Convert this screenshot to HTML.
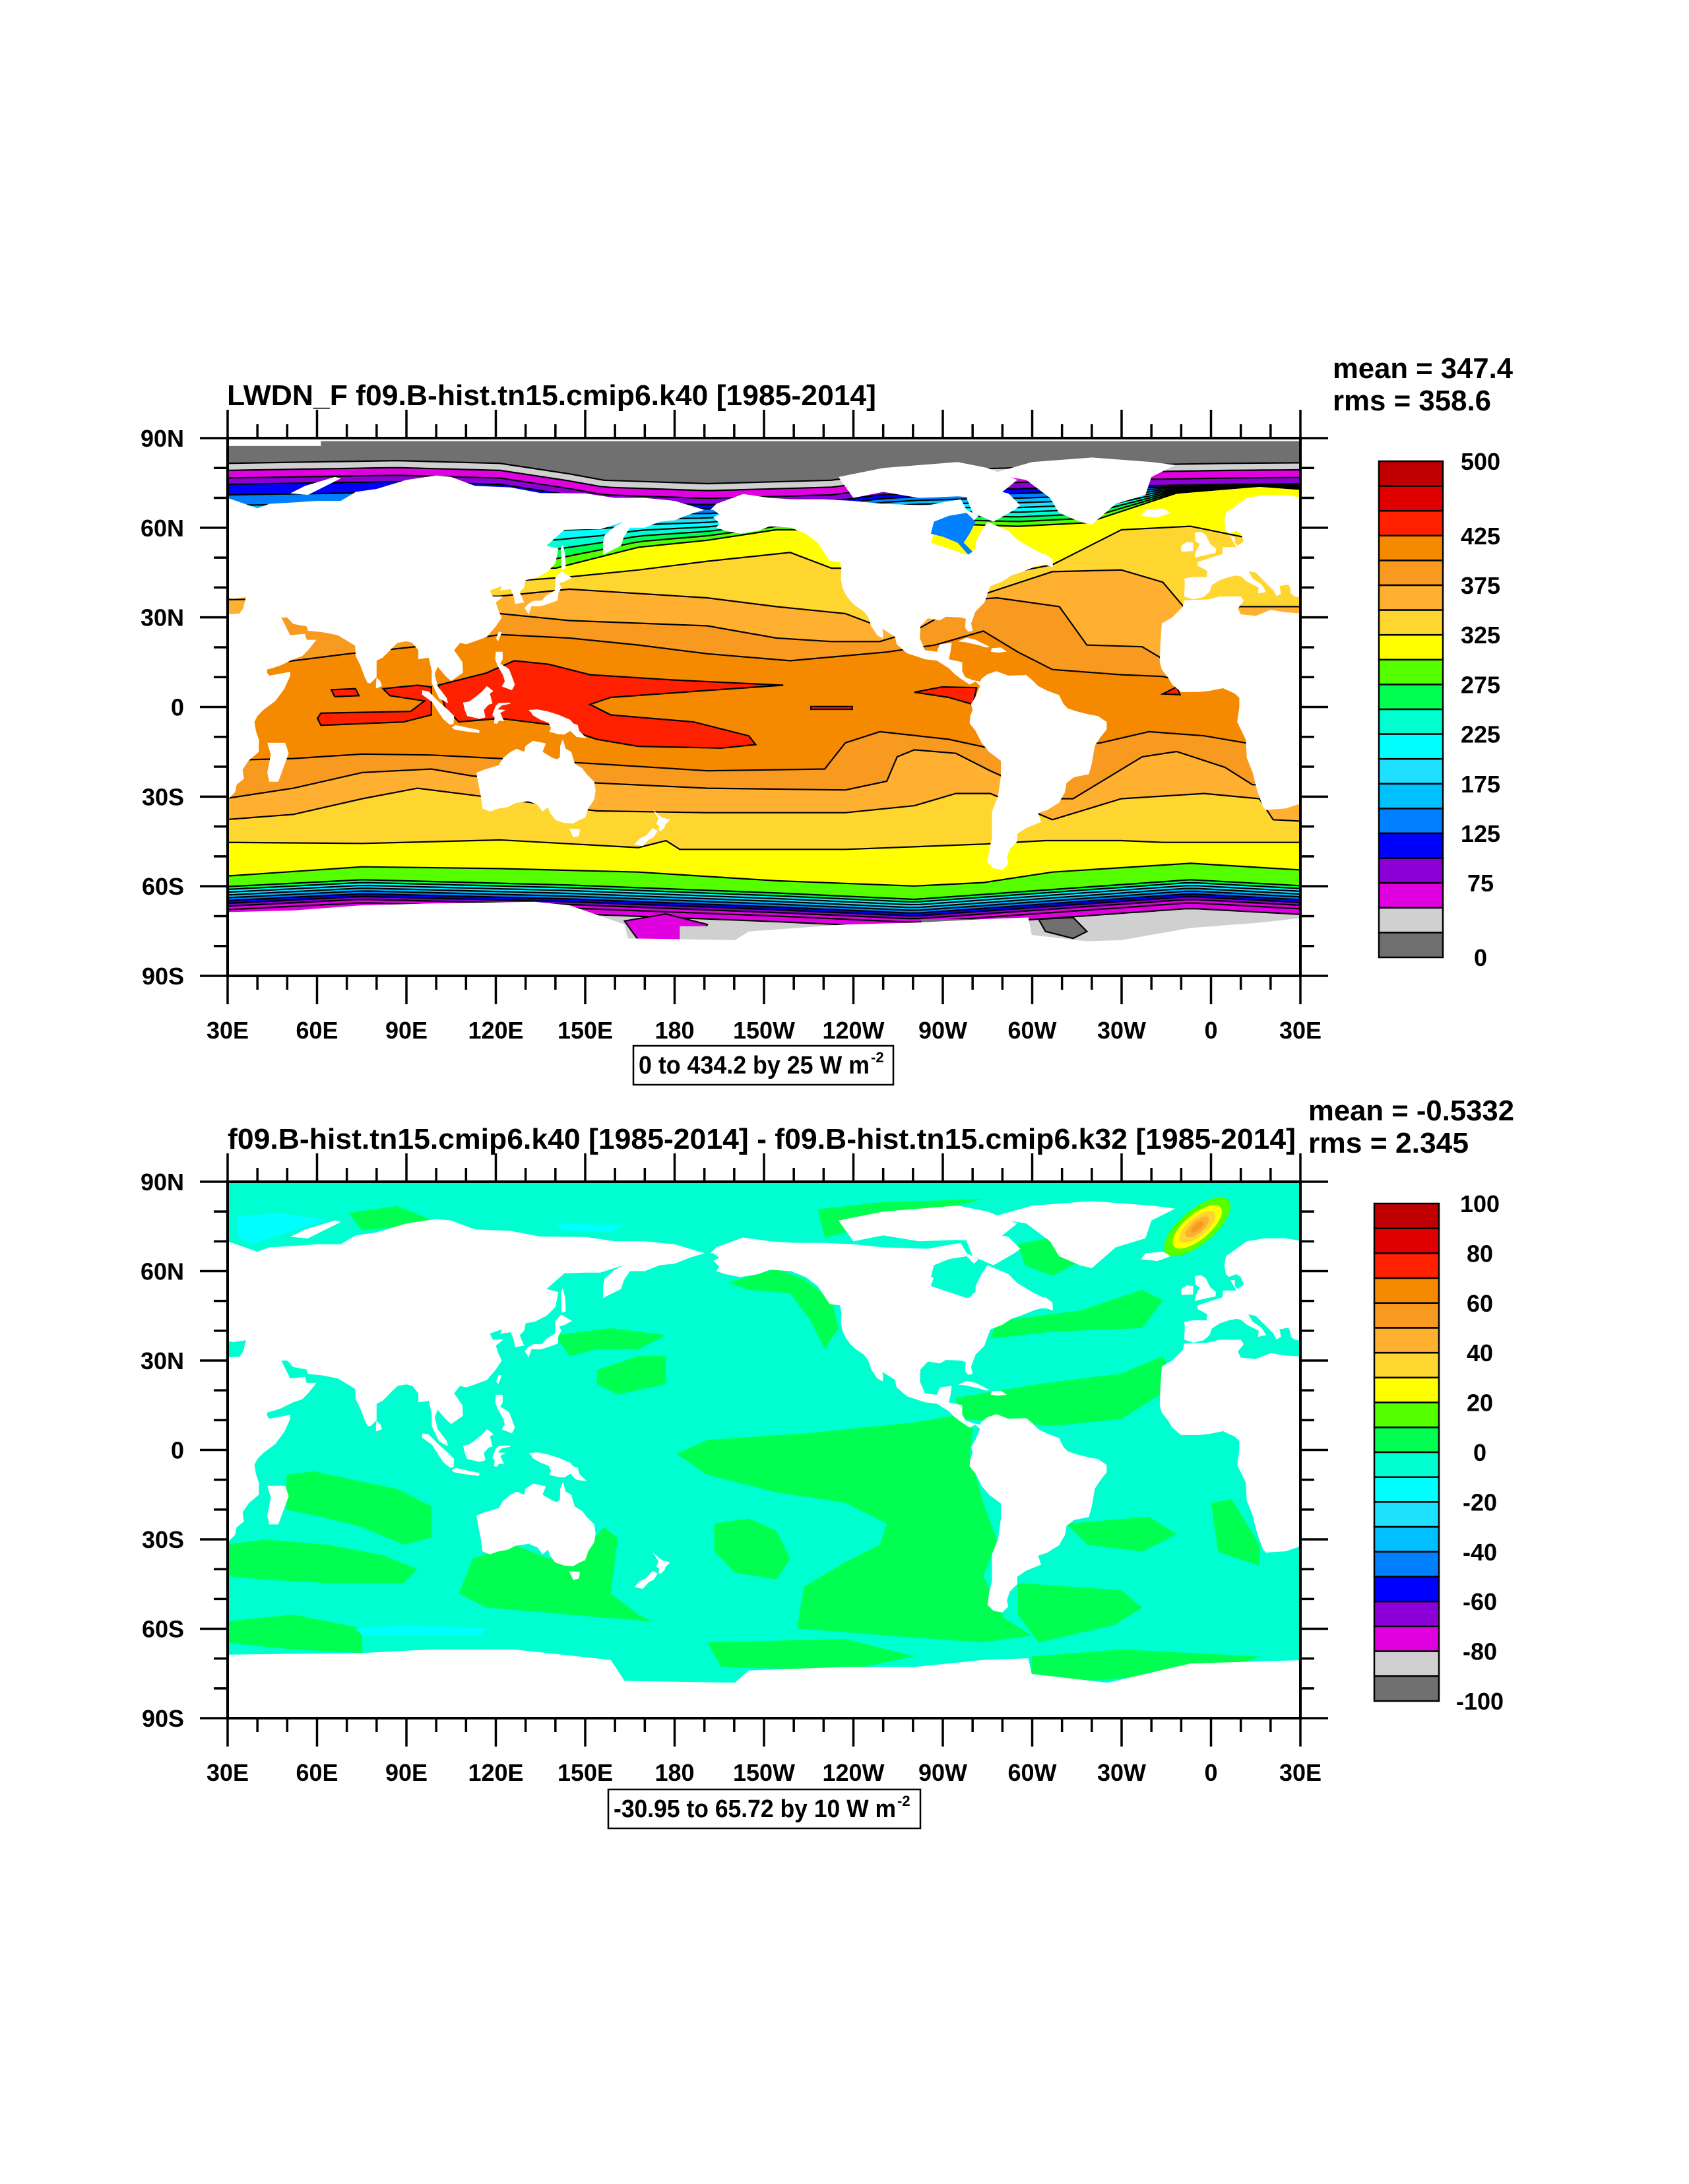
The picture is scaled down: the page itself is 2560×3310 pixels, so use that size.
<!DOCTYPE html>
<html><head><meta charset="utf-8"><style>
html,body{margin:0;padding:0;background:#fff;}
svg{display:block;font-family:"Liberation Sans",Arial,sans-serif;font-weight:bold;}
</style></head><body>
<svg id="chart" width="2560" height="3310" viewBox="0 0 2560 3310" xmlns="http://www.w3.org/2000/svg">
<rect width="2560" height="3310" fill="#fff"/>
<defs>
<clipPath id="clipU"><rect x="345" y="664" width="1626" height="815"/></clipPath>
<clipPath id="clipL"><rect x="345" y="1791" width="1626" height="813"/></clipPath>
</defs>
<g id="mapU" clip-path="url(#clipU)"></g>
<g id="mapL" clip-path="url(#clipL)"></g>
<g id="axes"></g>
<text x="344" y="614" font-size="44" textLength="984" lengthAdjust="spacingAndGlyphs">LWDN_F f09.B-hist.tn15.cmip6.k40 [1985-2014]</text>
<text x="2020" y="573" font-size="44" textLength="273" lengthAdjust="spacingAndGlyphs">mean = 347.4</text>
<text x="2020" y="622" font-size="44" textLength="240" lengthAdjust="spacingAndGlyphs">rms = 358.6</text>
<text x="345" y="1741" font-size="44" textLength="1619" lengthAdjust="spacingAndGlyphs">f09.B-hist.tn15.cmip6.k40 [1985-2014] - f09.B-hist.tn15.cmip6.k32 [1985-2014]</text>
<text x="1983" y="1698" font-size="44" textLength="312" lengthAdjust="spacingAndGlyphs">mean = -0.5332</text>
<text x="1983" y="1747" font-size="44" textLength="243" lengthAdjust="spacingAndGlyphs">rms = 2.345</text>
<g>
<rect x="960" y="1585" width="394" height="59" fill="none" stroke="#000" stroke-width="2.5"/>
<text x="968" y="1627" font-size="38" textLength="350" lengthAdjust="spacingAndGlyphs">0 to 434.2 by 25  W m</text>
<text x="1320" y="1610" font-size="22">-2</text>
</g>
<g>
<rect x="922" y="2712" width="473" height="59" fill="none" stroke="#000" stroke-width="2.5"/>
<text x="930" y="2754" font-size="38" textLength="428" lengthAdjust="spacingAndGlyphs">-30.95 to 65.72 by 10  W m</text>
<text x="1360" y="2737" font-size="22">-2</text>
</g>
<g id="cbars"></g>
</svg>
<script>
// ---------- data arrays ----------
const PAL=['#707070','#d0d0d0','#e000e0','#8c00d8','#0000ff','#0080ff','#00c0ff','#20e0ff','#00ffff','#00ffd0','#00ff50','#55ff00','#ffff00','#ffd530','#ffb030','#f89a20','#f58a00','#ff2000','#e00000','#c00000'];
const upperLabelVals=[500,425,375,325,275,225,175,125,75,0];
const lowerLabelVals=[100,80,60,40,20,0,-20,-40,-60,-80,-100];
const lonLabels=['30E','60E','90E','120E','150E','180','150W','120W','90W','60W','30W','0','30E'];
const latLabels=['90N','60N','30N','0','30S','60S','90S'];
const c400N=[[0,640],[60,655],[180,625],[300,600],[400,570],[500,580],[600,600],[700,625],[820,645],[960,620],[1030,600],[1100,560],[1150,620],[1200,670],[1300,685],[1360,690],[1420,720],[1568,720]];
const c375N=[[0,520],[400,510],[500,530],[700,545],[800,580],[880,590],[950,590],[1000,560],[1080,470],[1120,465],[1210,490],[1250,600],[1330,605],[1360,640],[1568,640]];
const c350N=[[0,470],[400,460],[500,440],[700,465],[800,490],[900,510],[940,540],[1000,500],[1100,455],[1200,390],[1300,385],[1360,420],[1390,490],[1568,490]];
const c325N=[[0,420],[430,415],[500,405],[600,385],[700,360],[820,335],[880,380],[1000,380],[1120,400],[1200,370],[1300,270],[1400,260],[1500,300],[1568,300]];
const c300N=[[0,380],[480,380],[600,320],[700,300],[800,270],[900,270],[1000,250],[1150,260],[1250,250],[1380,165],[1500,145],[1568,155]];
const polarDG=[[0,80],[250,72],[400,80],[500,110],[550,128],[700,138],[880,128],[950,110],[1100,95],[1300,85],[1450,80],[1568,78]];
const c400S=[[0,930],[100,925],[200,912],[300,915],[400,925],[540,940],[700,960],[870,955],[900,880],[950,848],[1050,870],[1120,900],[1200,895],[1270,880],[1340,848],[1420,860],[1568,910]];
const c375S=[[0,1040],[100,1010],[200,965],[300,955],[360,975],[540,995],[700,1010],[900,1015],[960,990],[975,920],[1000,900],[1060,910],[1110,960],[1200,1040],[1230,1040],[1330,920],[1380,905],[1450,950],[1490,1000],[1568,1000]];
const c350S=[[0,1100],[100,1085],[200,1040],[280,1010],[360,1030],[540,1075],[700,1080],[900,1080],[1000,1060],[1060,1025],[1110,1025],[1200,1100],[1300,1040],[1420,1025],[1500,1040],[1520,1100],[1568,1105]];
const c325S=[[0,1165],[200,1168],[400,1158],[600,1180],[640,1160],[660,1185],[900,1185],[1100,1170],[1190,1160],[1300,1160],[1360,1165],[1568,1165]];
const c300S=[[0,1262],[200,1235],[400,1240],[600,1250],[800,1275],[1000,1290],[1100,1280],[1200,1250],[1400,1225],[1568,1245]];
const c275S=[[0,1292],[200,1272],[500,1287],[800,1310],[1000,1328],[1200,1300],[1400,1272],[1568,1290]];
const antU=[[0,1365],[100,1360],[200,1345],[300,1340],[450,1335],[500,1345],[580,1400],[585,1440],[740,1445],[760,1420],[900,1400],[1000,1395],[1100,1385],[1165,1380],[1170,1430],[1250,1448],[1300,1445],[1400,1410],[1500,1395],[1568,1380]];
const antL=[[0,1375],[200,1370],[300,1360],[420,1360],[560,1390],[580,1450],[740,1455],[760,1420],[900,1410],[1000,1410],[1100,1390],[1165,1385],[1170,1430],[1280,1455],[1400,1400],[1568,1390]];
const redPatches=[
 [[310,715],[380,680],[420,645],[470,655],[530,685],[650,700],[810,715],[700,730],[560,750],[530,770],[560,800],[680,820],[760,860],[770,885],[720,895],[600,890],[540,870],[480,830],[400,810],[340,820],[320,780]],
 [[140,795],[270,790],[290,760],[240,745],[230,725],[280,715],[300,720],[300,800],[260,820],[140,830],[135,810]],
 [[155,728],[190,725],[195,745],[160,748]],
 [[1000,735],[1040,720],[1090,722],[1085,770],[1050,750]],
 [[1360,740],[1380,720],[1385,742]],
 [[850,776],[910,776],[910,784],[850,784]]];
const lowGreen=[
 [[655,800],[700,760],[850,740],[1000,710],[1060,690],[1085,730],[1080,800],[1100,940],[1120,1050],[1100,1150],[1130,1270],[1170,1320],[1100,1340],[960,1320],[830,1300],[840,1180],[900,1110],[950,1060],[960,1000],[900,940],[800,910],[700,860]],
 [[90,860],[130,850],[200,880],[250,900],[300,950],[300,1040],[260,1060],[200,1010],[140,980],[90,960]],
 [[0,1060],[60,1045],[150,1060],[230,1090],[280,1130],[260,1170],[150,1170],[60,1160],[0,1150]],
 [[340,1200],[360,1100],[420,1060],[470,1100],[520,1080],[550,1010],[570,1040],[560,1200],[600,1260],[620,1280],[500,1260],[380,1240]],
 [[710,1000],[760,985],[800,1020],[820,1100],[800,1160],[740,1140],[710,1080]],
 [[1150,1170],[1300,1190],[1330,1240],[1290,1290],[1180,1340],[1150,1260]],
 [[1220,1000],[1280,990],[1340,980],[1380,1030],[1330,1080],[1250,1060]],
 [[1120,420],[1240,390],[1330,330],[1360,360],[1330,440],[1200,450],[1110,470]],
 [[1060,640],[1180,600],[1300,570],[1360,520],[1380,600],[1300,700],[1200,720],[1070,700]],
 [[480,460],[560,440],[640,460],[600,500],[540,500],[500,520]],
 [[540,560],[600,520],[640,520],[640,600],[570,630],[540,600]],
 [[730,310],[800,270],[840,300],[880,360],[890,440],[870,500],[850,420],[820,340],[760,330]],
 [[180,110],[250,90],[300,130],[250,150],[200,160]],
 [[860,100],[950,80],[1100,70],[1000,120],[870,180]],
 [[1150,200],[1200,180],[1250,240],[1200,290],[1160,260]],
 [[0,1280],[100,1260],[200,1300],[200,1370],[100,1360],[0,1340]],
 [[700,1340],[900,1330],[1000,1380],[900,1420],[720,1410]],
 [[1170,1380],[1300,1360],[1500,1380],[1450,1420],[1250,1450],[1170,1430]],
 [[1430,940],[1460,930],[1500,1060],[1500,1120],[1440,1080]]];
const lowCyan=[
 [[190,1300],[260,1290],[380,1300],[370,1320],[200,1320]],
 [[20,120],[80,110],[150,130],[100,160],[40,200],[20,180]],
 [[480,140],[580,145],[560,165],[490,160]]];
const lands={
eurasia:[[30,70],[40,66.5],[44,68],[53,68.5],[60,69],[68,69],[73,72],[80,73],[90,76],[100,77.5],[105,77],[113,74],[125,73.5],[135,71.6],[150,71.5],[160,70],[170,70],[180,69],[190,66],[185,64.5],[180,62.5],[175,62],[170,60],[165,60],[163,57],[162,54],[158,52],[156,51],[156,55],[156.5,57.5],[160,60.5],[163,62],[155,59.5],[150,59.5],[143,59.3],[137,54],[141,53],[140,48],[137,45],[133,43],[130,42.5],[129.5,40],[128,38.5],[129.5,35],[126.5,34.5],[126,37],[125,39.5],[121.5,39],[122,40.5],[118,39],[119,37],[122.5,37],[120,35],[121,32],[122,30],[120,27],[117,23.5],[113,22],[110,21],[108,21.5],[106,19],[108.8,15],[109,11.5],[105,8.7],[103,10.5],[100.5,13.5],[99.5,11],[100.5,7],[103.5,3],[104,1.3],[101,2.8],[98.5,8],[98.5,12],[97.5,16.5],[94,16],[94,19],[92,21.5],[90,22],[87,21.5],[85,19.5],[82,16.5],[80,15.5],[80,10],[78,8],[77,8],[76,10],[74.5,14],[73,17],[72.8,20.5],[72,21],[67,24],[62,25],[57,25.5],[56.5,27],[52,27.8],[50,30],[48,30],[50,26],[51,24],[56,24.5],[56.5,22.5],[59.8,22.5],[57,19],[55,17],[52,16],[48,14],[45,13],[43.3,12.6],[43.2,11.5],[44,10.5],[51,11.8],[51,10.4],[49,6],[46,2],[42,-1],[40,-3],[39,-5],[39.5,-8],[40.5,-11],[40.5,-15],[37,-18],[35,-21],[35.5,-24],[33,-26],[32.5,-28.5],[30,-31],[29,-31],[29,31],[34,31.3],[35.2,33],[35.9,35.8],[36.2,36.8],[32,36.2],[29,36.6],[29,70]],
americas:[[192,66],[194,68],[203,71.3],[212,70],[220,69.5],[230,69.5],[240,69],[250,68],[265,67.5],[270,68.5],[276,69.5],[278,66],[282,64],[280,62],[275,61],[272,59],[267,58],[266,55],[278,51],[281,53],[281,55],[283,59],[285,62],[292,59],[295,56],[300,53],[304,51],[305,48],[301,47],[296,45],[293,44],[290,42],[286,40.5],[285,38],[284,35],[281,32],[279.5,28],[280,25.5],[278.5,25.2],[277.5,26.5],[277.7,29.5],[276,30],[271,30.2],[269,29],[265,29.7],[262.5,27],[262.3,23],[264,19],[268,18.5],[269,21],[273,21.5],[272.5,18],[272,16],[276.5,15],[276.5,12],[277.5,10],[280,9],[282.5,8.5],[283,9.5],[285,11],[288,12],[292,10.5],[298,10.7],[300,9],[302,7],[305,5.5],[309,4],[310.5,1],[312,-0.5],[315,-1.5],[319,-2.5],[322,-3],[325,-5],[325,-7.5],[323,-10],[321,-13],[320.5,-16],[320,-19],[319,-22.5],[314,-23.5],[311.5,-25.5],[311,-28.5],[309,-32],[305,-34.5],[302,-35.5],[303,-38.5],[298,-40.5],[295,-42.5],[295,-45],[292.5,-47.5],[291.5,-50.5],[292,-52.5],[290,-54.5],[287,-54],[285,-52],[285.5,-48],[286.5,-44],[286.5,-40],[286.5,-35],[288.5,-30],[289.5,-23],[289.5,-18],[285.5,-15],[283,-12],[281,-8],[279,-5.5],[279.2,-3],[280,-1],[279.5,1],[281,3.5],[282.5,7],[281,8.5],[279,7.5],[276,9.5],[274,11],[272,13],[268,15.5],[264,16],[258,18],[254.5,21],[254,23.5],[250,26],[247.5,28],[245.5,31.5],[247,31],[249.5,27.5],[250,24.5],[249.8,23],[248,24],[246,27],[245,30],[243.5,32],[240.5,34],[239,35.5],[237.5,37.5],[236.3,40],[235.8,43],[236,46],[235.5,48.5],[232,49],[230,52],[228,55],[224,58],[219,60],[212,60.5],[208,59],[202,58],[197,59],[194,60],[195,61.5],[193,63.5],[195,64.5],[193,66]],
arctic:[[240,70],[250,72],[262,70],[275,70.5],[282,70],[290,72],[295,76],[285,80],[275,82],[250,80],[235,77]],
baffin:[[280,65],[287,62],[294,66],[296,67.5],[292,71.5],[283,73.5],[278,70]],
greenland:[[286,78],[300,82],[320,83.5],[340,82],[348,81],[340,77],[338,71],[328,68],[320,61],[316,62],[309,65],[306,70],[298,76]],
iceland:[[336.5,64],[338,66],[344,66.5],[346.5,65],[342,63.4]],
uk:[[354.5,50],[358,50.8],[361.5,51.5],[361.7,53],[359.8,54.5],[358.3,57.5],[356.8,58.6],[354.5,58.4],[354.8,55.5],[356.3,54.5],[355.3,52.8],[354.8,51.5]],
ireland:[[350,52],[354,52.2],[354,55],[352,55.3],[350,54]],
europe:[[391,70],[385,71],[378,71],[372,70],[365,65],[364.5,62],[365,59],[366,58],[368.5,59],[370,58],[371,55.5],[369,54],[368,55],[368,57],[366.5,57],[368.5,53.5],[364,53.5],[363.8,51.2],[361.5,50.5],[358.5,49.5],[355.5,48.5],[355.5,47.3],[358.8,45.5],[358.5,43.5],[354,43.5],[351,43],[351.2,41.5],[351,37],[354,36],[357.5,36.8],[359.5,38.5],[360.3,40.8],[363,42.5],[366,43.5],[368.6,44],[370,43.7],[372,42],[376,40],[375.8,38],[378.5,38.5],[377,41],[374,43],[372.5,45.5],[375,45],[379,41],[381,39],[382,37],[383.5,38],[383,40.5],[386,41],[386.5,40],[386.8,38],[388,37],[391,36.5]],
nafrica:[[391,31.3],[385,31.7],[380,32.5],[375,30.5],[370,31],[369,33],[371,35.5],[370,37],[363,37],[359,36],[354,35.8],[351,35.7],[350.5,33.5],[347,30],[343.5,28],[343,21],[342.8,15],[343.5,12.5],[345.5,10],[347,7.5],[350,5],[356,5],[360,5.5],[364,6.3],[368,4.5],[369.5,3],[369.5,0],[368.8,-5],[371.7,-11],[372,-17],[374,-22],[375.5,-28],[377.5,-33.5],[378.5,-34.5],[380.3,-34.3],[385,-34],[391,-32]],
madagascar:[[43.3,-12],[49.3,-12],[50.5,-15.5],[47,-25],[44,-25],[43.3,-22],[44.5,-16]],
srilanka:[[79.8,6.2],[81.8,7],[81.2,8.7],[80,9.8],[79.8,8]],
japan:[[129.7,33.2],[131,31],[132,33.8],[134.5,33.7],[136,34],[139,35],[140.8,35.7],[141,38.2],[142,40],[141.3,41.4],[143.2,42],[145.5,43.3],[142,45.4],[140,43.3],[140,40.8],[139.8,39],[136.8,37.2],[135.5,35.6],[132.5,35.5],[130.8,34.4]],
sakhalin:[[142,46],[143.5,46.5],[143.3,51],[142.5,54.3],[141.8,53],[142,49]],
taiwan:[[120.1,23],[121,25.2],[122,25],[120.8,22]],
philippines:[[120,18.5],[122.3,18.5],[122.3,16],[121.5,14.5],[124,13],[124.5,12.5],[125.5,10],[126.4,7.5],[125.4,5.6],[122,6.9],[123,8.5],[122.5,10.5],[120.5,14],[119.8,16]],
sumatra:[[95.3,5.6],[97.5,5.2],[100.4,2.2],[104,-1],[106,-3],[105.8,-5.8],[104.5,-5.9],[102.3,-4],[100.3,-1],[98.6,1.7],[95.3,4.1]],
java:[[105.2,-6.8],[106.5,-6],[110.5,-6.9],[114.5,-7.7],[114.4,-8.7],[110,-8.2],[106,-7.5]],
borneo:[[109,1.5],[109.6,-1],[110.4,-3],[114.5,-4],[116.5,-3.5],[116,-1],[117.5,0.7],[118.9,1.2],[118,4.5],[119.2,5.3],[117,7],[115.5,5.3],[113,3.2],[111,1.8]],
sulawesi:[[119.4,-5.5],[119.6,-3.5],[118.8,-2.7],[120,0.5],[121,1.3],[124.5,1.5],[125,1.1],[122,0.5],[120.6,-0.8],[123.3,-1],[121.5,-2],[122.8,-4.8],[121,-4.6],[120.5,-5.6]],
newguinea:[[131,-1],[134,-0.8],[137.5,-1.5],[141,-2.6],[145,-4.3],[146,-5.5],[147.5,-6],[148,-8],[150.5,-10.5],[147,-10],[145,-8],[143,-9.2],[141,-9.1],[138,-8.3],[138.5,-7],[137.7,-5.3],[135,-4.3],[132.3,-2.7],[132,-2]],
australia:[[113.5,-22],[114.2,-26],[115,-30],[115.5,-34],[118,-35],[121,-34],[124,-33.5],[126.5,-32.2],[131,-31.5],[134,-32.7],[135.7,-35],[137.5,-33.5],[138.2,-35.5],[140,-37.8],[143,-38.8],[146,-39],[148,-37.8],[150,-37],[151,-34],[153,-31],[153.5,-28],[153,-25],[150.5,-22.5],[149,-20.5],[146.5,-19],[145.3,-15],[143.5,-14],[142.5,-10.8],[141.6,-13],[141.5,-16.8],[140.5,-17.5],[139,-17],[135.7,-15],[136.8,-12.2],[132.5,-11.3],[130,-13],[129.5,-15],[127,-14],[125,-15],[122.5,-17],[121,-19.5],[118,-20.4],[116,-21],[114.1,-21.8]],
tasmania:[[144.6,-40.7],[148.3,-40.9],[147.8,-43.2],[146,-43.6]],
nzNorth:[[172.7,-34.4],[174.5,-36],[175.8,-37],[178.5,-37.7],[177,-39.3],[176.5,-40.5],[175.2,-41.6],[174.6,-41.2],[174.9,-39.8],[173.8,-39.2],[174.6,-37.4]],
nzSouth:[[172.6,-40.5],[174.3,-41.5],[173,-43.5],[171.2,-44.5],[169.3,-46.6],[166.5,-46],[168.3,-44],[170.5,-43]],
cuba:[[275.1,21.9],[278,23.2],[281,22.5],[285.8,20.1],[284.5,19.9],[282,20.7],[277.5,21.7]],
hispaniola:[[286.5,19.7],[289.5,19.9],[291.5,18.5],[288.5,18.2],[286,18.5]],
newfoundland:[[300.5,47.6],[304.7,47.5],[307,46.8],[306.8,49.5],[304,51.5],[303,50]],
novayaZemlya:[[51,71.5],[56,74],[66,77],[68,76.5],[57,71]]};
const hudson=[[266,58],[267,62],[272,64],[278,65],[281,62],[279,58],[277,55],[280,52],[278.5,51],[275,55],[270,57]];

const NS='http://www.w3.org/2000/svg';
const UP={L:345,R:1971,T:664,B:1479,g0:660};
const LO={L:345,R:1971,T:1791,B:2604,g0:1780};
function gX(gx){return 340+gx*1640/1568;}
function gY(m,gy){return m.g0+gy*830/1568;}
function llX(m,lon){return m.L+(lon-30)/360*(m.R-m.L);}
function llY(m,lat){return m.T+(90-lat)/180*(m.B-m.T);}
function gPts(m,pts){return pts.map(p=>gX(p[0]).toFixed(1)+','+gY(m,p[1]).toFixed(1)).join(' ');}
function lPts(m,pts){return pts.map(p=>llX(m,p[0]).toFixed(1)+','+llY(m,p[1]).toFixed(1)).join(' ');}
function mk(tag,attrs,parent){const e=document.createElementNS(NS,tag);for(const k in attrs)e.setAttribute(k,attrs[k]);parent.appendChild(e);return e;}
function yAt(line,x){
  if(x<=line[0][0])return line[0][1];
  for(let i=1;i<line.length;i++){if(x<=line[i][0]){const a=line[i-1],b=line[i];return a[1]+(b[1]-a[1])*(x-a[0])/(b[0]-a[0]);}}
  return line[line.length-1][1];
}
function lerpLine(a,b,t){const out=[];for(let x=0;x<=1568;x+=16){out.push([x,yAt(a,x)*(1-t)+yAt(b,x)*t]);}return out;}
function shift(a,d){const out=[];for(let x=0;x<=1568;x+=16){out.push([x,yAt(a,x)+d]);}return out;}
function layer(m,g,line,idx,north,stroke){
  const last=line[line.length-1][1],first=line[0][1];
  const edge=north?-40:1700;
  const pts=line.concat([[1620,last],[1620,edge],[-40,edge],[-40,first]]);
  const p=mk('polygon',{points:gPts(m,pts),fill:PAL[idx]},g);
  
  
  if(stroke){
    const l=mk('polyline',{points:gPts(m,line),fill:'none',stroke:'#000','stroke-width':2.2},g);
    
    
  }
}
function patch(m,g,pts,fill,stroke,name){
  const p=mk('polygon',{points:gPts(m,pts),fill:fill},g);
  if(stroke){p.setAttribute('stroke','#000');p.setAttribute('stroke-width','2.2');}
  
  
}
function drawLand(m,g){
  for(const k in lands){
    const p=mk('polygon',{points:lPts(m,lands[k]),fill:'#fff'},g);
    
    
  }
}

(function(){
  const m=UP,g=document.getElementById('mapU');
  const bg=mk('rect',{x:m.L,y:m.T,width:m.R-m.L,height:m.B-m.T,fill:PAL[16]},g);
  
  
  layer(m,g,c400N,15,true,true);
  layer(m,g,c375N,14,true,true);
  layer(m,g,c350N,13,true,true);
  layer(m,g,c325N,12,true,true);
  layer(m,g,c300N,11,true,true);
  const L100=shift(polarDG,60);
  for(let v=275;v>=100;v-=25){
    const t=(300-v)/200;
    layer(m,g,lerpLine(c300N,L100,t),v/25-1,true,true);
  }
  layer(m,g,shift(polarDG,42),2,true,true);
  layer(m,g,shift(polarDG,20),1,true,true);
  layer(m,g,polarDG,0,true,true);
  layer(m,g,c400S,15,false,true);
  layer(m,g,c375S,14,false,true);
  layer(m,g,c350S,13,false,true);
  layer(m,g,c325S,12,false,true);
  layer(m,g,c300S,11,false,true);
  layer(m,g,c275S,10,false,true);
  for(let k=1;k<=7;k++){layer(m,g,shift(c275S,k*8),9-k,false,true);}
  layer(m,g,shift(c275S,66),2,false,true);
  layer(m,g,shift(c275S,82),1,false,true);
  patch(m,g,[[580,1390],[640,1370],[700,1400],[690,1445],[600,1445]],PAL[2],true,'ross-sea-patch');
  patch(m,g,[[660,1405],[740,1405],[760,1440],[660,1447]],PAL[1],false,'ross-ice-patch');
  patch(m,g,[[1180,1385],[1230,1380],[1250,1420],[1230,1440],[1190,1420]],PAL[0],true,'weddell-patch');
  patch(m,g,[[1010,1385],[1080,1385],[1080,1400],[1010,1400]],PAL[0],false,'amundsen-patch');
  redPatches.forEach(r=>patch(m,g,r,PAL[17],true,'warm-pool-patch'));
  drawLand(m,g);
  const h=mk('polygon',{points:lPts(m,hudson),fill:PAL[5]},g);
  
  
  patch(m,g,antU.concat([[1620,1380],[1620,1700],[-40,1700],[-40,1365]]),'#fff',false,'antarctica');
  patch(m,g,[[-40,-40],[1620,-40],[1620,16],[140,16],[140,30],[-40,30]],'#fff',false,'pole-gap');
})();

(function(){
  const m=LO,g=document.getElementById('mapL');
  const bg=mk('rect',{x:m.L,y:m.T,width:m.R-m.L,height:m.B-m.T,fill:PAL[9]},g);
  
  
  lowGreen.forEach(r=>patch(m,g,r,PAL[10],false,'positive-diff-patch'));
  lowCyan.forEach(r=>patch(m,g,r,PAL[8],false,'negative-diff-patch'));
  const cx=gX(1410),cy=gY(m,150);
  const rings=[[62,26,11],[46,19,12],[34,14,13],[22,9,14],[12,5,15]];
  rings.forEach(r=>{
    const e=mk('ellipse',{cx:cx,cy:cy,rx:r[0],ry:r[1],fill:PAL[r[2]],transform:'rotate(-40 '+cx+' '+cy+')'},g);
    
    
  });
  drawLand(m,g);
  const h=mk('polygon',{points:lPts(m,hudson),fill:PAL[9]},g);
  
  
  patch(m,g,antL.concat([[1620,1390],[1620,1700],[-40,1700],[-40,1375]]),'#fff',false,'antarctica');
  patch(m,g,[[-40,-40],[1620,-40],[1620,22],[-40,22]],'#fff',false,'pole-gap');
})();

(function(){
  const ax=document.getElementById('axes');
  [UP,LO].forEach((m,mi)=>{
    const fr=mk('rect',{x:m.L,y:m.T,width:m.R-m.L,height:m.B-m.T,fill:'none',stroke:'#000','stroke-width':4},ax);
    
    
    for(let lon=30;lon<=390;lon+=10){
      const x=llX(m,lon),maj=(lon%30===0),len=maj?43:21;
      const t1=mk('line',{x1:x,x2:x,y1:m.T,y2:m.T-len,stroke:'#000','stroke-width':3.5},ax);
      
      
      const t2=mk('line',{x1:x,x2:x,y1:m.B,y2:m.B+len,stroke:'#000','stroke-width':3.5},ax);
      
      
    }
    lonLabels.forEach((s,i)=>{
      const t=mk('text',{x:llX(m,30+i*30),y:m.B+95,'font-size':36,'text-anchor':'middle'},ax);
      t.textContent=s;
      
      
    });
    for(let lat=-90;lat<=90;lat+=10){
      const y=llY(m,lat),maj=(lat%30===0),len=maj?42:21;
      const t1=mk('line',{x1:m.L,x2:m.L-len,y1:y,y2:y,stroke:'#000','stroke-width':3.5},ax);
      
      
      const t2=mk('line',{x1:m.R,x2:m.R+len,y1:y,y2:y,stroke:'#000','stroke-width':3.5},ax);
      
      
    }
    latLabels.forEach((s,i)=>{
      const t=mk('text',{x:m.L-66,y:llY(m,90-i*30)+13,'font-size':36,'text-anchor':'end'},ax);
      t.textContent=s;
      
      
    });
  });
})();

(function(){
  const cb=document.getElementById('cbars');
  const bars=[{x:2090,w:97,y:699,h:752,vmax:500,step:25,labels:upperLabelVals,lx:2244},
              {x:2083,w:98,y:1824,h:754,vmax:100,step:10,labels:lowerLabelVals,lx:2243}];
  bars.forEach((b,bi)=>{
    const bh=b.h/20;
    for(let i=0;i<20;i++){
      const r=mk('rect',{x:b.x,y:b.y+i*bh,width:b.w,height:bh,fill:PAL[19-i],stroke:'#000','stroke-width':2.5},cb);
      
      
    }
    b.labels.forEach(v=>{
      const t=mk('text',{x:b.lx,y:b.y+(b.vmax-v)/b.step*bh+13,'font-size':36,'text-anchor':'middle'},cb);
      t.textContent=String(v);
      
      
    });
  });
})();
</script>
</body></html>
